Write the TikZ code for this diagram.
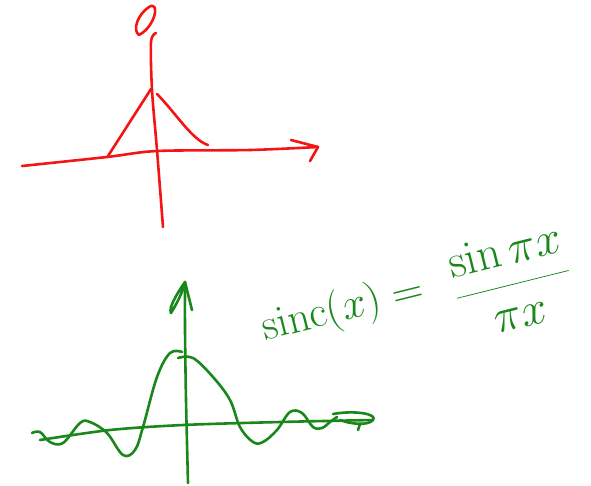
\documentclass[tikz,border=0pt]{standalone}
\definecolor{penred}{RGB}{245,20,20}
\definecolor{pengreen}{RGB}{25,135,25}

\begin{document}
\begin{tikzpicture}[
  x=1pt,y=-1pt,
  redpen/.style={draw=penred,line width=2.6pt,line cap=round,line join=round},
  greenpen/.style={draw=pengreen,line width=2.6pt,line cap=round,line join=round},
  handtxt/.style={text=pengreen,inner sep=0pt,font=\Huge,transform shape},
]
\useasboundingbox (0,0) rectangle (591,485);

% ===== top sketch: red axes and triangle =====
\draw[redpen] plot[smooth] coordinates {(22,166) (107,157) (157,151) (250,150) (318,147)};
\draw[redpen] (291,140) -- (318,147) -- (310,161);
\draw[redpen] plot[smooth] coordinates {(156,33) (151,42) (152,90) (157,150) (163,227)};
\draw[redpen] (149,7) .. controls (160,0) and (156,26) .. (139,35)
  .. controls (132,30) and (138,14) .. (149,7);
% triangle peak
\draw[redpen] (108,156) -- (151,89);
\draw[redpen] (157,94) .. controls (175,112) and (192,140) .. (208,145);

% ===== bottom sketch: green axes and sinc curve =====
\draw[greenpen] plot[smooth] coordinates {(40,440) (110,430) (183,425) (280,422) (373,420)};
\draw[greenpen] (333,414) .. controls (355,410) and (378,414) .. (373,420)
  .. controls (368,426) and (350,424) .. (340,420);
\draw[greenpen] (360,424) -- (358,430);
\draw[greenpen] plot[smooth] coordinates {(188,483) (186,400) (185,330) (185,282)};
\draw[greenpen] (185,282) .. controls (178,292) and (168,308) .. (171,313)
  .. controls (176,305) and (183,292) .. (185,282) -- (192,310);
% main lobe and side lobes
\draw[greenpen] plot[smooth,tension=0.6] coordinates {
  (32,433) (40,432) (50,442) (63,443) (80,423) (90,422) (107,433)
  (123,455) (135,450) (143,427) (157,377) (170,353) (182,352)};
\draw[greenpen] plot[smooth,tension=0.6] coordinates {
  (178,358) (193,358) (213,377) (230,400) (240,427) (253,442) (263,442)
  (277,430) (290,412) (302,413) (313,427) (322,428) (330,422) (337,417)};

% ===== formula =====
\node[handtxt,rotate=14,scale=1.75] (lhs) at (343,310)
  {$\mathrm{sinc}(x)=$};
\node[handtxt,rotate=14,scale=1.9] (frac) at (512,281)
  {$\displaystyle\frac{\sin\pi x}{\pi x}$};
\end{tikzpicture}
\end{document}
